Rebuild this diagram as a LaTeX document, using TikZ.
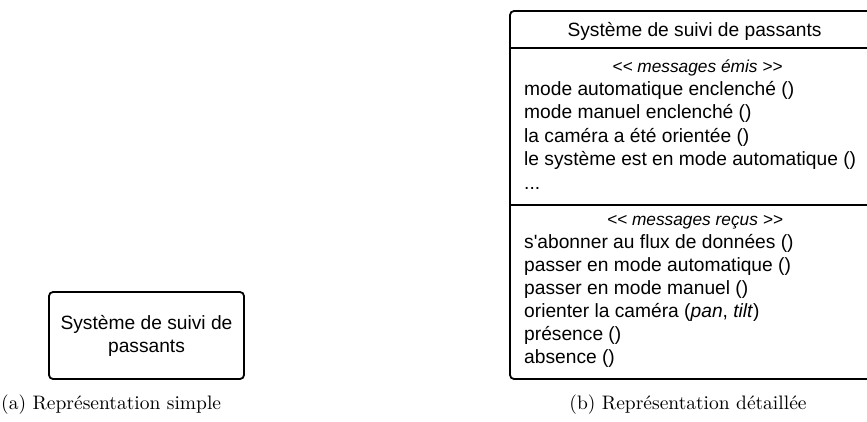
\documentclass[tikz,border=0pt]{standalone}
\usepackage{fontspec}
\newfontfamily\arial{Liberation Sans}
\newfontfamily\capfont{lmroman10-regular}[Extension=.otf]
\tikzset{
  umlbox/.style={draw=black, line width=1.8pt, rounded corners=4pt, inner sep=0pt},
  divider/.style={draw=black, line width=1.8pt},
  bodytxt/.style={anchor=base west, inner sep=0pt, font=\arial\fontsize{19.2}{23}\selectfont},
  centxt/.style={anchor=base, inner sep=0pt, font=\arial\fontsize{19.2}{23}\selectfont},
  stereo/.style={anchor=base, inner sep=0pt, font=\arial\itshape\fontsize{17.3}{20}\selectfont},
  captxt/.style={inner sep=0pt, font=\capfont\fontsize{19.5}{23}\selectfont}
}
\begin{document}
\begin{tikzpicture}[x=1pt,y=-1pt]
\useasboundingbox (0,0) rectangle (867,421);
% simple box
\draw[umlbox] (49,292) rectangle (244,379);
\node[centxt] (s1) at (146.5,329) {Système de suivi de};
\node[centxt] (s2) at (146.5,352) {passants};
% detailed box
\draw[umlbox] (510,11) rectangle (872,379);
\coordinate (d1l) at (510,48);
\coordinate (d1r) at (872,48);
\coordinate (d2l) at (510,205);
\coordinate (d2r) at (872,205);
\draw[divider] (d1l) -- (d1r);
\draw[divider] (d2l) -- (d2r);
\node[centxt] (title) at (694.5,36) {Système de suivi de passants};
\node[stereo] (st1) at (697.5,72) {<< messages émis >>};
\node[bodytxt] (e1) at (524,95) {mode automatique enclenché ()};
\node[bodytxt] (e2) at (524,118.5) {mode manuel enclenché ()};
\node[bodytxt] (e3) at (524,142) {la caméra a été orientée ()};
\node[bodytxt] (e4) at (524,165.5) {le système est en mode automatique ()};
\node[bodytxt] (e5) at (524,189) {...};
\node[stereo] (st2) at (695,225) {<< messages reçus >>};
\node[bodytxt] (r1) at (524,248) {s'abonner au flux de données ()};
\node[bodytxt] (r2) at (524,271) {passer en mode automatique ()};
\node[bodytxt] (r3) at (524,294) {passer en mode manuel ()};
\node[bodytxt] (r4) at (524,317) {orienter la caméra (\textit{pan}, \textit{tilt})};
\node[bodytxt] (r5) at (524,340) {présence ()};
\node[bodytxt] (r6) at (524,363) {absence ()};
% captions
\node[captxt, anchor=base west] (ca) at (1,409) {(a) Représentation simple};
\node[captxt, anchor=base] (cb) at (688,409) {(b) Représentation détaillée};
\end{tikzpicture}
\end{document}
